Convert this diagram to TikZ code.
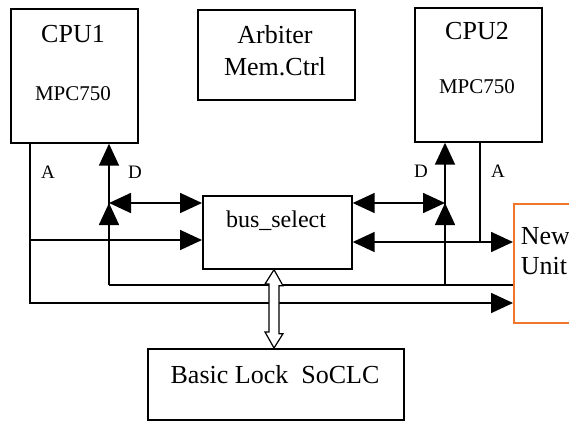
\documentclass[tikz,border=0pt]{standalone}
\usepackage{fontspec}
\setmainfont{Liberation Serif}
\usetikzlibrary{arrows.meta}
\definecolor{orng}{RGB}{240,118,44}
\begin{document}
\begin{tikzpicture}[x=1pt,y=-1pt,line width=1.7pt,
  box/.style={draw,rectangle,inner sep=0pt,anchor=north west},
  tip/.style={-{Triangle[length=22pt,width=20pt]}},
  dtip/.style={{Triangle[length=22pt,width=20pt]}-{Triangle[length=22pt,width=20pt]}},
  big/.style={font=\fontsize{26}{30}\selectfont,anchor=base,inner sep=0pt},
  mid/.style={font=\fontsize{21}{25}\selectfont,anchor=base,inner sep=0pt},
  lbl/.style={font=\fontsize{19}{22}\selectfont,anchor=base,inner sep=0pt}]
\useasboundingbox (0,0) rectangle (569,420);
% boxes
\node[box,minimum width=127pt,minimum height=134pt] (cpu1) at (10,8) {};
\node[box,minimum width=157pt,minimum height=90pt] (arb) at (197,9) {};
\node[box,minimum width=127pt,minimum height=134pt] (cpu2) at (414,7) {};
\node[box,minimum width=149pt,minimum height=73pt] (bus) at (202,195) {};
\node[box,minimum width=256pt,minimum height=71pt] (lock) at (147,348) {};
\node[box,draw=orng,minimum width=100pt,minimum height=119pt] (newu) at (513,203) {};
% texts
\node[big] (t1) at (73,43) {CPU1};
\node[mid] (t2) at (73,100) {MPC750};
\node[big] (t3) at (275,44) {Arbiter};
\node[big] (t4) at (275,75) {Mem.Ctrl};
\node[big] (t5) at (477,40) {CPU2};
\node[mid] (t6) at (477,93) {MPC750};
\node[font=\fontsize{24}{28}\selectfont,anchor=base,inner sep=0pt] (t7) at (276,227) {bus\_select};
\node[big] (t8) at (275,383) {Basic Lock\ \ SoCLC};
\node[big,anchor=base west] (t9) at (520,244) {New};
\node[big,anchor=base west] (t10) at (520,274) {Unit};
\node[lbl] (la1) at (48,178) {A};
\node[lbl] (ld1) at (135,178) {D};
\node[lbl] (ld2) at (421,177) {D};
\node[lbl] (la2) at (498,177) {A};
% coordinates
\coordinate (a1) at (30,303);
\coordinate (a1m) at (30,240);
\coordinate (d1) at (109,285);
\coordinate (d2) at (445,285);
\coordinate (a2) at (480,242);
\coordinate (j1) at (109,203);
\coordinate (j2) at (445,203);
\coordinate (hx) at (274,0);
% connectors
\draw[tip] (cpu1.south -| a1) -- (a1) -- (a1 -| newu.west);
\draw[tip] (a1m) -- (a1m -| bus.west);
\draw[tip] (d1) -- (cpu1.south -| d1);
\draw (d1) -- (d1 -| newu.west);
\draw[tip] ([yshift=-26pt]j1) -- (j1);
\draw[dtip] (j1) -- (j1 -| bus.west);
\draw[tip] (d2) -- (cpu2.south -| d2);
\draw[tip] ([yshift=-26pt]j2) -- (j2);
\draw[dtip] (bus.east |- j2) -- (j2);
\draw[dtip] (bus.east |- a2) -- (a2 -| newu.west);
\draw (cpu2.south -| a2) -- (a2);
% hollow double arrow
\draw[line width=1.2pt,fill=white] (bus.south -| hx) -- ++(9,16) -- ++(-4,0) -- ++(0,48) -- ++(4,0)
  -- (lock.north -| hx) -- ++(-9,-16) -- ++(4,0) -- ++(0,-48) -- ++(-4,0) -- cycle;
\end{tikzpicture}
\end{document}
